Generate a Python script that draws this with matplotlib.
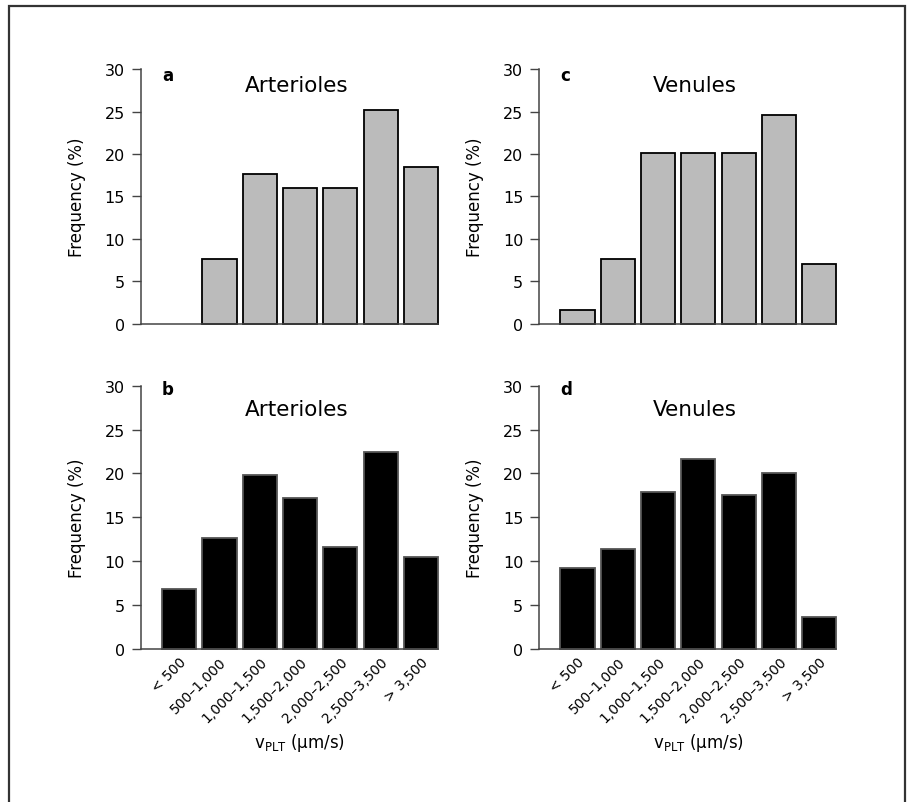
import matplotlib
matplotlib.use("Agg")
import matplotlib.pyplot as plt
from matplotlib.patches import Rectangle

# velocity classes (µm/s)
categories = ["< 500", "500–1,000", "1,000–1,500", "1,500–2,000",
              "2,000–2,500", "2,500–3,500", "> 3,500"]

# frequency (%) per panel
freq_a = [0.0, 7.6, 17.6, 16.0, 16.0, 25.2, 18.5]   # arterioles, top
freq_c = [1.6, 7.6, 20.1, 20.1, 20.1, 24.6, 7.1]    # venules, top
freq_b = [6.8, 12.6, 19.8, 17.2, 11.6, 22.4, 10.5]  # arterioles, bottom
freq_d = [9.2, 11.4, 17.9, 21.6, 17.6, 20.1, 3.6]   # venules, bottom

yticks = [0, 5, 10, 15, 20, 25, 30]

spine_col = "#444444"

fig = plt.figure(figsize=(9.11, 8.03), dpi=100)

# frame around the whole figure (open at the bottom)
fig.patches.append(Rectangle((9 / 911, -0.05), (905 - 9) / 911, 1.05 - 7 / 803,
                             transform=fig.transFigure, fill=False,
                             edgecolor="#333333", linewidth=1.6))

panels = [
    # letter, title, values, rect, fill, edge, title y, letter y
    ("a", "Arterioles", freq_a, [0.1548, 0.5953, 0.326, 0.3175], "#bbbbbb", "black", 0.937, 1.01),
    ("c", "Venules", freq_c, [0.5920, 0.5953, 0.326, 0.3175], "#bbbbbb", "black", 0.937, 1.01),
    ("b", "Arterioles", freq_b, [0.1548, 0.1905, 0.326, 0.328], "black", "#555555", 0.911, 1.02),
    ("d", "Venules", freq_d, [0.5920, 0.1905, 0.326, 0.328], "black", "#555555", 0.911, 1.02),
]

x = list(range(len(categories)))

for letter, title, vals, rect, fc, ec, ty, ly in panels:
    ax = fig.add_axes(rect)
    bars = ax.bar(x, vals, width=0.85, color=fc, edgecolor=ec, linewidth=1.3, zorder=2)
    for b, v in zip(bars, vals):
        b.set_clip_on(False)
        if v == 0:
            b.set_visible(False)
    ax.set_xlim(-0.95, 6.425)
    ax.set_ylim(0, 30)
    ax.set_yticks(yticks)
    ax.tick_params(axis="y", length=6.5, width=1, color=spine_col, labelsize=11.5, pad=5)
    ax.tick_params(axis="x", length=0)
    for s in ["top", "right"]:
        ax.spines[s].set_visible(False)
    for s in ["left", "bottom"]:
        ax.spines[s].set_color(spine_col)
        ax.spines[s].set_linewidth(1.1)
    ax.set_ylabel("Frequency (%)", fontsize=12)
    ax.yaxis.set_label_coords(-0.185, 0.5)

    ax.text(0.525, ty, title, transform=ax.transAxes, ha="center", va="center",
            fontsize=15.5)
    ax.text(0.07, ly, letter, transform=ax.transAxes, ha="left", va="top",
            fontsize=12, fontweight="bold")

    if letter in ("b", "d"):
        ax.set_xticks(x)
        ax.set_xticklabels(categories, rotation=45, ha="right",
                           rotation_mode="anchor", fontsize=10)
        ax.tick_params(axis="x", pad=4)
        ax.set_xlabel(r"v$_{\mathregular{PLT}}$ (µm/s)", fontsize=12)
        ax.xaxis.set_label_coords(0.535, -0.353)
        ax.xaxis.label.set_va("center")
    else:
        ax.set_xticks([])

fig.savefig("out.png", dpi=100)
